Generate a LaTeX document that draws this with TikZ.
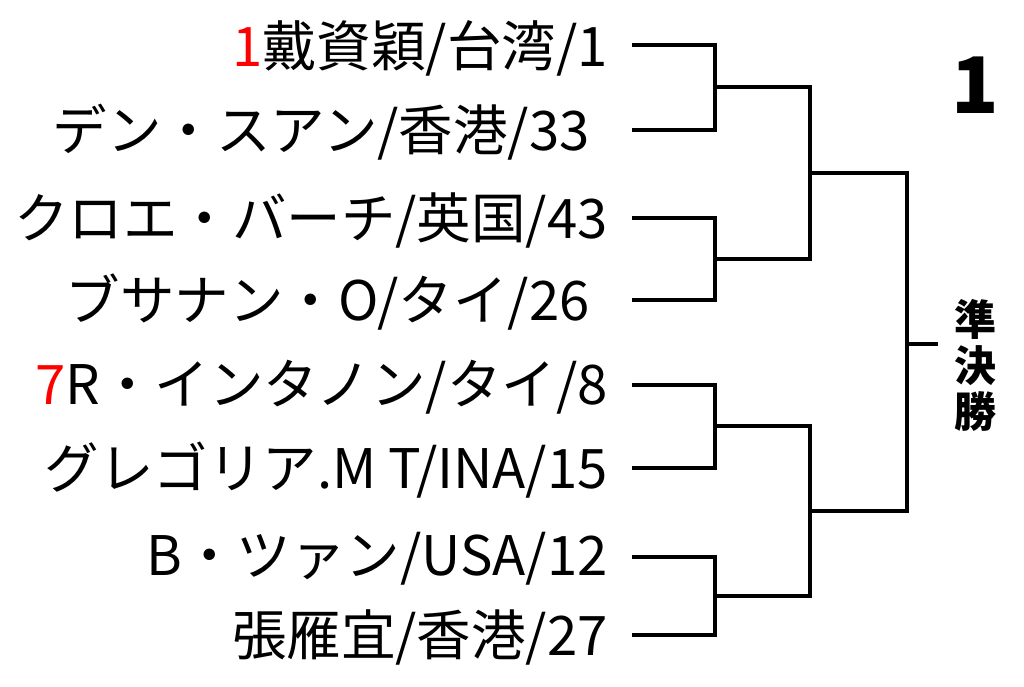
\documentclass[tikz,border=0pt]{standalone}
\usepackage{fontspec}
\setmainfont{Noto Sans CJK JP}
\begin{document}
\begin{tikzpicture}[x=1pt,y=-1pt,
 nm/.style={anchor=east,inner sep=0pt,font=\fontsize{54.5}{56}\selectfont},
 br/.style={line width=4pt,line join=miter}]
\useasboundingbox (0,0) rectangle (1024,687);
\node[nm] (p1) at (608,48) {\textcolor{red}{1}戴資穎/台湾/1};
\node[nm] (p2) at (590,132) {デン・スアン/香港/33};
\node[nm] (p3) at (608,220) {クロエ・バーチ/英国/43};
\node[nm] (p4) at (590,302) {ブサナン・O/タイ/26};
\node[nm] (p5) at (608,387) {\textcolor{red}{7}R・インタノン/タイ/8};
\node[nm] (p6) at (608,470) {グレゴリア.M T/INA/15};
\node[nm] (p7) at (608,559) {B・ツァン/USA/12};
\node[nm] (p8) at (608,637) {張雁宜/香港/27};
\coordinate (a1) at (632,45); \coordinate (a2) at (632,130);
\coordinate (a3) at (632,218); \coordinate (a4) at (632,300);
\coordinate (a5) at (632,385); \coordinate (a6) at (632,468);
\coordinate (a7) at (632,557); \coordinate (a8) at (632,635);
\draw[br] (a1) -- (715,45) -- (715,130) -- (a2);
\draw[br] (a3) -- (715,218) -- (715,300) -- (a4);
\draw[br] (a5) -- (715,385) -- (715,468) -- (a6);
\draw[br] (a7) -- (715,557) -- (715,635) -- (a8);
\draw[br] (715,87) -- (810,87) -- (810,259) -- (715,259);
\draw[br] (715,426) -- (810,426) -- (810,596) -- (715,596);
\draw[br] (810,173) -- (907,173) -- (907,511) -- (810,511);
\coordinate (f) at (938,344);
\draw[br] (907,344) -- (f);
\node[font=\fontsize{42}{46}\selectfont\bfseries,align=center,inner sep=0pt] (sf) at (975,365) {準\\決\\勝};
\node[font=\fontsize{78}{78}\selectfont\bfseries,inner sep=0pt] (one) at (975,85) {1};
\end{tikzpicture}
\end{document}
